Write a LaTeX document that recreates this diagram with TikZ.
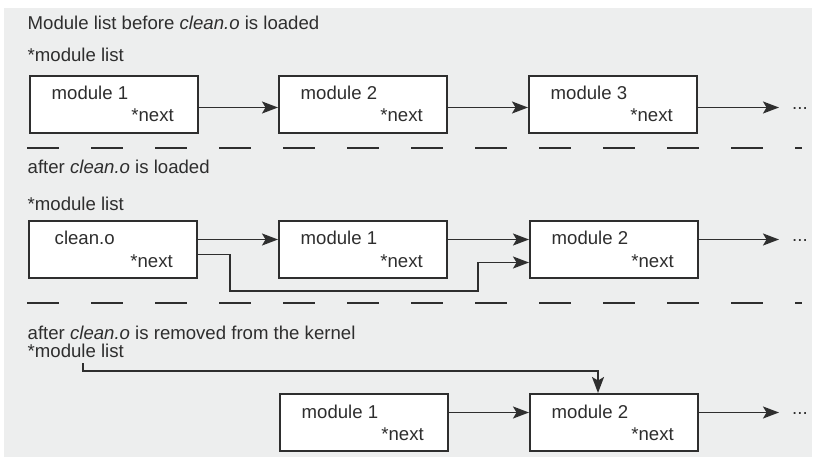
\documentclass[tikz,border=0pt]{standalone}
\usepackage{fontspec}
\setmainfont{Liberation Sans}
\usetikzlibrary{arrows.meta}

\definecolor{panel}{HTML}{EDEEEE}
\definecolor{ink}{HTML}{2E2E2E}

\tikzset{
  modrect/.style={draw=ink, fill=white, line width=2pt, minimum width=168pt,
    minimum height=57pt, anchor=north west, inner sep=0pt},
  lbl/.style={text=ink, inner sep=0pt, font=\fontsize{18.6}{20}\selectfont},
  link/.style={draw=ink, line width=1.8pt,
    -{Stealth[length=16pt, width=12pt, inset=3.5pt]}},
  divider/.style={draw=ink, line width=2pt, dash pattern=on 32pt off 32pt},
}

% one list element: frame, module name and the *next field
\newcommand\modulebox[5][22.5]{%
  \node[modrect] (#2) at (#3,#4) {};
  \node[lbl, anchor=base west] (#2-name) at ([xshift=#1pt, yshift=-25pt]#2.north west) {#5};
  \node[lbl, anchor=base east] (#2-next) at ([xshift=-25pt, yshift=-47pt]#2.north east) {*next};
}

\begin{document}
\begin{tikzpicture}[x=1pt, y=-1pt]
\useasboundingbox (0,0) rectangle (814,457);
\fill[panel] (4,8) rectangle (812,457);

% ---- before clean.o is loaded
\node[lbl, anchor=base west] (t1) at (27.5,29.5) {Module list before \textit{clean.o} is loaded};
\node[lbl, anchor=base west] (h1) at (27.5,62) {*module list};
\modulebox{a1}{29}{75}{module 1}
\modulebox{a2}{278}{75}{module 2}
\modulebox{a3}{528}{75}{module 3}
\node[lbl, anchor=base west] (e1) at (792,110) {...};
\coordinate (e1t) at ([xshift=-13pt]e1.west);
\coordinate (q1) at ([yshift=-3pt]a3.east);
\draw[link] ([yshift=-3pt]a1.east) -- ([yshift=-3pt]a2.west);
\draw[link] ([yshift=-3pt]a2.east) -- ([yshift=-3pt]a3.west);
\draw[link] (q1) -- (q1 -| e1t);

\coordinate (d1l) at (27,147.7);
\coordinate (d1r) at (802,147.7);
\draw[divider] (d1l) -- (d1r);

% ---- after clean.o is loaded
\node[lbl, anchor=base west] (t2) at (27.5,173.5) {after \textit{clean.o} is loaded};
\node[lbl, anchor=base west] (h2) at (27.5,211) {*module list};
\modulebox[26.5]{b0}{28}{220}{clean.o}
\modulebox{b1}{278}{220}{module 1}
\modulebox{b2}{529}{220}{module 2}
\node[lbl, anchor=base west] (e2) at (792,241) {...};
\coordinate (e2t) at ([xshift=-13pt]e2.west);
\coordinate (q2) at ([yshift=10pt]b2.east);
\draw[link] ([yshift=10pt]b0.east) -- ([yshift=10pt]b1.west);
\draw[link] ([yshift=10pt]b1.east) -- ([yshift=10pt]b2.west);
\draw[link] (q2) -- (q2 -| e2t);
\coordinate (k1) at (230,290.7);
\coordinate (k2) at (478,290.7);
\draw[link] ([yshift=-5pt]b0.east) -| (k1) -- (k2) |- ([yshift=-13pt]b2.west);

\coordinate (d2l) at (27,303);
\coordinate (d2r) at (802,303);
\draw[divider] (d2l) -- (d2r);

% ---- after clean.o is removed
\node[lbl, anchor=base west] (t3) at (27.5,339.5) {after \textit{clean.o} is removed from the kernel};
\node[lbl, anchor=base west] (h3) at (27.5,357) {*module list};
\modulebox{c1}{279}{393}{module 1}
\modulebox{c2}{529}{393}{module 2}
\node[lbl, anchor=base west] (e3) at (792,414) {...};
\coordinate (e3t) at ([xshift=-13pt]e3.west);
\coordinate (q3) at ([yshift=10pt]c2.east);
\draw[link] ([yshift=10pt]c1.east) -- ([yshift=10pt]c2.west);
\draw[link] (q3) -- (q3 -| e3t);
\coordinate (s3) at (82.7,363);
\coordinate (k3) at (598,370.7);
\draw[link] (s3) |- (k3) -- (k3 |- c2.north);
\end{tikzpicture}
\end{document}
